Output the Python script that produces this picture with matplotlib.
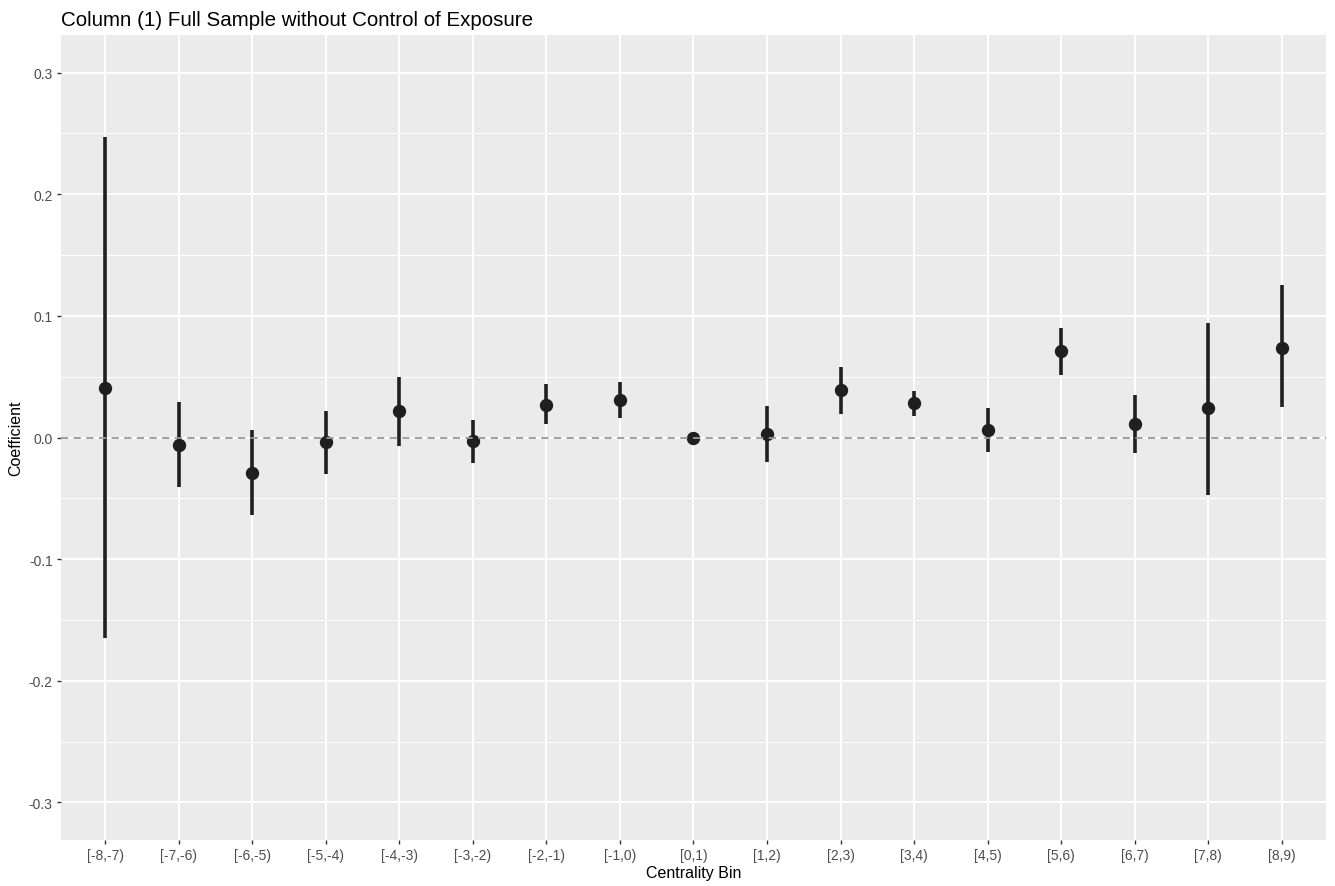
import matplotlib
matplotlib.use("Agg")
import matplotlib.pyplot as plt
from matplotlib.ticker import MultipleLocator, FuncFormatter

bins = ["[-8,-7)", "[-7,-6)", "[-6,-5)", "[-5,-4)", "[-4,-3)", "[-3,-2)", "[-2,-1)", "[-1,0)",
        "[0,1)", "[1,2)", "[2,3)", "[3,4)", "[4,5)", "[5,6)", "[6,7)", "[7,8)", "[8,9)"]
coef = [0.041, -0.006, -0.029, -0.004, 0.022, -0.003, 0.027, 0.031,
        0.0, 0.003, 0.039, 0.028, 0.006, 0.071, 0.011, 0.024, 0.074]
upper = [0.247, 0.029, 0.006, 0.022, 0.050, 0.014, 0.044, 0.046,
         0.0, 0.026, 0.058, 0.038, 0.024, 0.090, 0.035, 0.094, 0.125]
lower = [-0.165, -0.041, -0.064, -0.030, -0.007, -0.021, 0.011, 0.016,
         0.0, -0.020, 0.019, 0.018, -0.012, 0.051, -0.013, -0.047, 0.025]

plt.rcParams["font.family"] = ["Liberation Sans", "DejaVu Sans"]

fig = plt.figure(figsize=(13.35, 8.87), dpi=100)
ax = fig.add_axes([61 / 1335, 46 / 887, 1265 / 1335, 805 / 887])
ax.set_facecolor("#EBEBEB")
for s in ax.spines.values():
    s.set_visible(False)

x = list(range(len(bins)))
ax.vlines(x, lower, upper, color="#1f1f1f", lw=2.6, zorder=3)
ax.plot(x, coef, "o", color="#1f1f1f", ms=8.6, zorder=4)
ax.axhline(0, color="#999999", ls=(0, (4, 3)), lw=1.3, zorder=5)

ax.set_xlim(-0.6, len(bins) - 0.4)
ax.set_ylim(-0.331, 0.331)
ax.set_xticks(x)
ax.set_xticklabels(bins)
ax.yaxis.set_major_locator(MultipleLocator(0.1))
ax.yaxis.set_minor_locator(MultipleLocator(0.05))
ax.yaxis.set_major_formatter(FuncFormatter(lambda v, p: f"{v:.1f}"))

ax.grid(which="major", color="white", lw=1.4, zorder=0)
ax.grid(which="minor", axis="y", color="white", lw=0.7, zorder=0)
ax.set_axisbelow(True)
ax.tick_params(which="major", length=3, width=1, color="#333333", labelcolor="#4D4D4D",
               labelsize=10, pad=3)
ax.tick_params(which="minor", length=0)

ax.set_xlabel("Centrality Bin", fontsize=11.5, labelpad=2)
ax.set_ylabel("Coefficient", fontsize=11.5, labelpad=4)
ax.set_title("Column (1) Full Sample without Control of Exposure", fontsize=14.8, loc="left", pad=7)

fig.savefig("out.png", dpi=100)
